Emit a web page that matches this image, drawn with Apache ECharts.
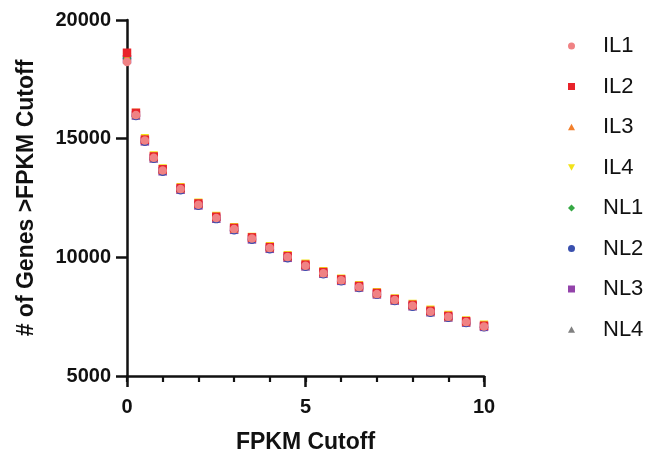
<!DOCTYPE html>
<html>
<head>
<meta charset="utf-8">
<script src="https://cdn.jsdelivr.net/npm/echarts@6/dist/echarts.min.js"></script>
<style>html,body{margin:0;padding:0;background:#fff}#c{width:647px;height:452px}</style>
</head>
<body>
<div id="c"></div>
<script>
const cutoffs = [0,0.25,0.5,0.75,1,1.5,2,2.5,3,3.5,4,4.5,5,5.5,6,6.5,7,7.5,8,8.5,9,9.5,10];
const IL1 = [18230,16000,14920,14200,13660,12880,12220,11660,11190,10790,10390,10010,9650,9330,9030,8750,8460,8200,7960,7710,7500,7280,7090];
const IL2 = [18620,16090,14960,14250,13710,12920,12270,11710,11240,10840,10430,10050,9690,9380,9070,8790,8500,8240,8000,7750,7530,7310,7120];
const IL3 = [18450,16040,14990,14230,13690,12910,12260,11700,11220,10820,10430,10050,9680,9360,9060,8780,8490,8230,7990,7740,7520,7300,7120];
const IL4 = [18420,16080,15020,14290,13740,12950,12300,11740,11270,10860,10470,10090,9730,9410,9100,8820,8530,8270,8030,7790,7570,7340,7160];
const NL1 = [18400,16020,14930,14210,13670,12890,12230,11670,11200,10800,10400,10020,9660,9340,9040,8760,8470,8210,7970,7720,7500,7280,7100];
const NL2 = [18380,15960,14870,14150,13610,12830,12170,11610,11140,10740,10340,9960,9600,9290,8990,8710,8420,8160,7920,7670,7450,7230,7050];
const NL3 = [18350,15980,14890,14170,13630,12850,12190,11630,11160,10760,10360,9980,9620,9310,9010,8730,8440,8180,7940,7690,7470,7250,7070];
const NL4 = [18330,15990,14900,14180,13640,12860,12200,11640,11170,10770,10370,9990,9630,9320,9020,8740,8450,8190,7950,7700,7480,7260,7080];
const seriesNames = ['IL1','IL2','IL3','IL4','NL1','NL2','NL3','NL4'];
const seriesValues = [IL1,IL2,IL3,IL4,NL1,NL2,NL3,NL4];
const colors = ['#F08284','#E8232A','#F27F2C','#F2E21A','#35A844','#3A50AE','#9343AA','#808080'];
const downTri = 'path://M0,0 L10,0 L5,9 Z';
const upTri = 'path://M5,0 L10,9 L0,9 Z';
const symbols = ['circle','rect',upTri,downTri,'diamond','circle','rect',upTri];
const zs = [9,8,7,6,5,4,3,2];

const font = 'Liberation Sans, Arial, sans-serif';
const series = seriesNames.map((n,i)=>({
  name:n, type:'scatter',
  xAxisIndex:0,
  data: cutoffs.map((x,j)=>[x, seriesValues[i][j]]),
  symbol: symbols[i],
  symbolSize: 8.5,
  itemStyle:{color:colors[i], opacity:1},
  z: zs[i],
  emphasis:{disabled:true}
}));

const axisCommon = {
  type:'value', min:0, max:10,
  axisLine:{show:true,onZero:false,lineStyle:{color:'#111',width:2.5}},
  splitLine:{show:false}
};

const chart = echarts.init(document.getElementById('c'), null, {renderer:'canvas'});
chart.setOption({
  animation:false,
  backgroundColor:'#fff',
  grid:{left:127,right:163,top:20,bottom:76,containLabel:false,outerBoundsMode:'none'},
  xAxis:[
    Object.assign({}, axisCommon, {
      interval:5,
      name:'FPKM Cutoff', nameLocation:'middle', nameGap:55,
      nameTextStyle:{fontFamily:font,fontWeight:'bold',fontSize:23,color:'#111'},
      axisTick:{show:true,length:11,lineStyle:{color:'#111',width:2.5}},
      axisLabel:{fontFamily:font,fontWeight:'bold',fontSize:20,color:'#111',margin:21}
    }),
    Object.assign({}, axisCommon, {
      interval:1, position:'bottom', offset:0,
      axisLine:{show:false},
      axisTick:{show:true,length:6,lineStyle:{color:'#111',width:2.2}},
      axisLabel:{show:false}
    })
  ],
  yAxis:{
    type:'value', min:5000, max:20000, interval:5000,
    name:'# of Genes >FPKM Cutoff', nameLocation:'middle', nameGap:89,
    nameTextStyle:{fontFamily:font,fontWeight:'bold',fontSize:23,color:'#111'},
    axisLine:{show:true,onZero:false,lineStyle:{color:'#111',width:2.5}},
    axisTick:{show:true,length:11,lineStyle:{color:'#111',width:2.5}},
    axisLabel:{fontFamily:font,fontWeight:'bold',fontSize:20,color:'#111',margin:16,formatter:v=>String(v)},
    splitLine:{show:false}
  },
  legend:{
    orient:'vertical', left:563, top:30,
    data:seriesNames.map((n,i)=>({name:n, icon:symbols[i]})),
    itemWidth:7, itemHeight:7, itemGap:18.5,
    textStyle:{fontFamily:font,fontSize:22,color:'#111',lineHeight:22,padding:[0,0,0,23]},
    selectedMode:false
  },
  series: series
});
</script>
</body>
</html>
